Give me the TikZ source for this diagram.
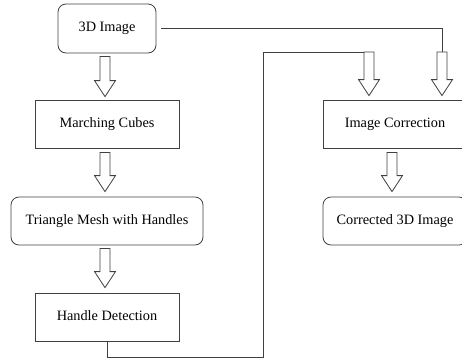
\documentclass[tikz,border=0pt]{standalone}
\usepackage{fontspec}
\setmainfont{Liberation Serif}
\usetikzlibrary{calc}
\tikzset{
  boxbase/.style={draw=black!75, line width=0.8pt, align=center, inner sep=0pt,
    font=\fontsize{14.3}{17}\selectfont, text height=10pt, text depth=4pt},
  sqbox/.style={boxbase, rectangle},
  rbox/.style={boxbase, rectangle, rounded corners=8pt},
  conn/.style={draw=black!75, line width=0.8pt},
  hollow/.style={draw=black!75, line width=0.8pt, fill=white, line join=miter}
}
\newcommand{\hollowdown}[2]{%
  \draw[hollow] let \p1=(#1), \p2=(#2) in
    (\x1-5pt,\y1) -- (\x1-5pt,\y2+16pt) -- (\x1-10.5pt,\y2+16pt) -- (\x1,\y2)
    -- (\x1+10.5pt,\y2+16pt) -- (\x1+5pt,\y2+16pt) -- (\x1+5pt,\y1) -- cycle;}
\begin{document}
\begin{tikzpicture}[x=1pt,y=-1pt]
\useasboundingbox (0,0) rectangle (462,360);
\clip (0,0) rectangle (462,360);
% nodes
\node[rbox, minimum width=98pt, minimum height=49pt] (img) at (107,28.5) {3D Image};
\node[sqbox, minimum width=144pt, minimum height=48pt] (mc) at (107,124) {Marching Cubes};
\node[rbox, minimum width=192pt, minimum height=48pt] (tm) at (107,221) {Triangle Mesh with Handles};
\node[sqbox, minimum width=144pt, minimum height=48pt] (hd) at (107,317) {Handle Detection};
\node[sqbox, minimum width=144pt, minimum height=48pt] (ic) at (395,124) {Image Correction};
\node[rbox, minimum width=144pt, minimum height=48pt] (c3d) at (395,221) {Corrected 3D Image};
% inputs of Image Correction
\coordinate (inL) at (369,52);
\coordinate (inR) at (442,52);
\coordinate (bend) at (263,357);
% connectors
\draw[conn] ($(img.east)+(5pt,0pt)$) -| (inR);
\draw[conn] (hd.south) |- (bend) |- (inL);
% hollow arrows
\hollowdown{$(img.south)+(-2pt,-3pt)$}{$(mc.north)+(-2pt,3pt)$}
\hollowdown{$(mc.south)+(-2pt,-4pt)$}{$(tm.north)+(-2pt,5pt)$}
\hollowdown{$(tm.south)+(-2pt,-3pt)$}{$(hd.north)+(-2pt,5pt)$}
\hollowdown{$(ic.south)+(-3pt,-4pt)$}{$(c3d.north)+(-3pt,5pt)$}
\hollowdown{inL}{$(inL|-ic.north)+(0pt,4pt)$}
\hollowdown{inR}{$(inR|-ic.north)+(0pt,4pt)$}
\end{tikzpicture}
\end{document}
